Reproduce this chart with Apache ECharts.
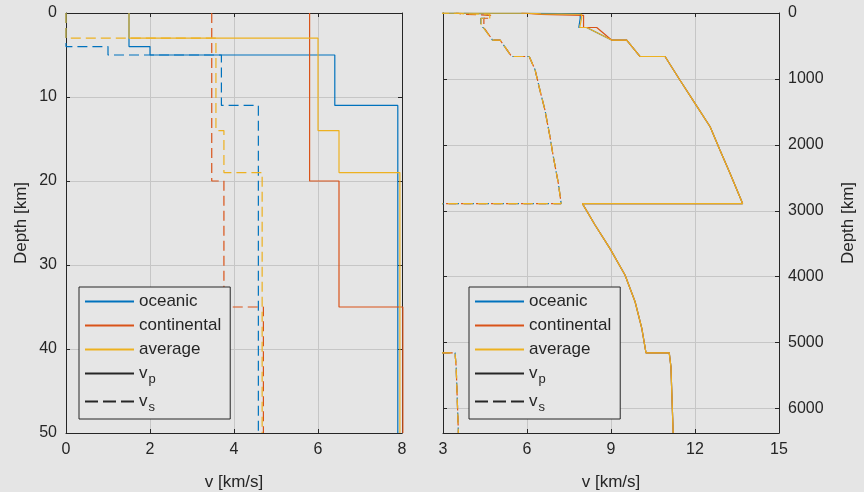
<!DOCTYPE html>
<html>
<head>
<meta charset="utf-8">
<script src="https://cdn.jsdelivr.net/npm/echarts@6/dist/echarts.min.js"></script>
<style>
  html, body { margin: 0; padding: 0; background: #e5e5e5; }
  #main { width: 864px; height: 492px; }
</style>
</head>
<body>
<div id="main"></div>
<script>
// crust layers: top depth [km] and velocity [km/s] of each layer
const oceanicTop = [0, 4, 5, 11];
const oceanicVp = [1.5, 2.0, 6.4, 7.9];
const oceanicVs = [0, 1.0, 3.7, 4.58];

const continentalTop = [0, 20, 35];
const continentalVp = [5.8, 6.5, 8.02];
const continentalVs = [3.47, 3.76, 4.7];

const averageTop = [0, 3, 14, 19];
const averageVp = [1.5, 6.0, 6.5, 7.95];
const averageVs = [0, 3.57, 3.76, 4.67];

// upper mantle, per model (oceanic, continental, average)
const lvzTop = 80;
const lvzBottom = 220;
const lvzVp = [7.85, 8.02, 7.88];
const lvzVs = [4.35, 4.46, 4.36];
const vpAt220 = [8.13, 8.49, 8.13];
const vsAt220 = [4.44, 4.52, 4.44];

// deeper earth, shared by all models
const vpDepth = [410, 410, 660, 660, 1016, 1370, 1725, 2078, 2432, 2891, 2891, 3216, 3570, 3975, 4380, 4784, 5155, 5155, 5365, 6371];
const vpDeep = [9.02, 9.56, 10.04, 10.93, 11.46, 12.0, 12.54, 12.89, 13.25, 13.7, 7.98, 8.43, 8.96, 9.5, 9.86, 10.1, 10.25, 11.08, 11.14, 11.22];
const vsDepth = [410, 410, 660, 660, 865, 1168, 1471, 1876, 2180, 2584, 2891, 2891, 5155, 5155, 5365, 6371];
const vsDeep = [4.77, 5.04, 5.45, 6.08, 6.29, 6.46, 6.64, 6.82, 6.94, 7.12, 7.22, 0, 0, 3.43, 3.47, 3.55];

const leftTicksX = [0, 8, 2];
const leftTicksY = [0, 50, 10];
const rightTicksX = [3, 15, 3];
const rightTicksY = [0, 6371, 1000];

const modelNames = ['oceanic', 'continental', 'average'];
const modelColors = ['#0072BD', '#D95319', '#EDB120'];
const legendNames = ['oceanic', 'continental', 'average', 'vp', 'vs'];

const axisFont = '"Liberation Sans", Arial, sans-serif';
const textColor = '#262626';

// turn a layer table into a staircase of [v, depth] points
function steps(top, vals, bottom) {
  let pts = [];
  for (let i = 0; i < top.length; i++) {
    let b = i + 1 < top.length ? top[i + 1] : bottom;
    pts.push([vals[i], top[i]]);
    pts.push([vals[i], b]);
  }
  return pts;
}

function fullProfile(top, vals, k, isVp) {
  let pts = steps(top, vals, lvzTop);
  let lvz = isVp ? lvzVp[k] : lvzVs[k];
  let v220 = isVp ? vpAt220[k] : vsAt220[k];
  pts.push([lvz, lvzTop], [lvz, lvzBottom], [v220, lvzBottom]);
  let dd = isVp ? vpDepth : vsDepth;
  let vv = isVp ? vpDeep : vsDeep;
  dd.forEach((d, i) => pts.push([vv[i], d]));
  return pts;
}

const tables = [
  [oceanicTop, oceanicVp, oceanicVs],
  [continentalTop, continentalVp, continentalVs],
  [averageTop, averageVp, averageVs]
];

let series = [];
tables.forEach((t, k) => {
  let base = {
    name: modelNames[k], type: 'line', symbol: 'none', color: modelColors[k],
    animation: false, clip: true
  };
  series.push(Object.assign({}, base, {
    xAxisIndex: 0, yAxisIndex: 0, data: steps(t[0], t[1], 50),
    lineStyle: { width: 1.2, color: modelColors[k] }
  }));
  series.push(Object.assign({}, base, {
    xAxisIndex: 0, yAxisIndex: 0, data: steps(t[0], t[2], 50),
    lineStyle: { width: 1.2, color: modelColors[k], type: [10, 5] }
  }));
  series.push(Object.assign({}, base, {
    xAxisIndex: 2, yAxisIndex: 2, data: fullProfile(t[0], t[1], k, true),
    lineStyle: { width: 1.2, color: modelColors[k] }
  }));
  series.push(Object.assign({}, base, {
    xAxisIndex: 2, yAxisIndex: 2, data: fullProfile(t[0], t[2], k, false),
    lineStyle: { width: 1.2, color: modelColors[k], type: [10, 5], dashOffset: k * 5 }
  }));
});
// legend-only entries for line style
series.push({ name: 'vp', type: 'line', symbol: 'none', data: [], xAxisIndex: 0, yAxisIndex: 0,
  color: textColor, lineStyle: { width: 1.2, color: textColor } });
series.push({ name: 'vs', type: 'line', symbol: 'none', data: [], xAxisIndex: 0, yAxisIndex: 0,
  color: textColor, lineStyle: { width: 1.2, color: textColor, type: [13, 5] } });

function axis(gridIndex, ticks, extra) {
  return Object.assign({
    type: 'value', gridIndex: gridIndex,
    min: ticks[0], max: ticks[1], interval: ticks[2],
    axisLine: { show: true, onZero: false, lineStyle: { color: textColor, width: 1 } },
    axisTick: { show: true, inside: true, length: 4, lineStyle: { color: textColor } },
    axisLabel: { show: false },
    splitLine: { show: false }
  }, extra);
}
const gridSplit = { show: true, lineStyle: { color: '#c6c6c6', width: 1 } };
const labelOn = { show: true, color: textColor, fontSize: 16, fontFamily: axisFont, margin: 9,
  formatter: v => String(v) };
const nameStyle = { color: textColor, fontSize: 17, fontFamily: axisFont };

function legend(left) {
  return {
    left: left, top: 287, orient: 'vertical', selectedMode: false,
    data: legendNames, itemWidth: 49, itemHeight: 12, itemGap: 7,
    padding: [6, 9, 5, 5], borderColor: textColor, borderWidth: 1, borderRadius: 0,
    backgroundColor: '#e6e6e6',
    itemStyle: { opacity: 0 },
    textStyle: {
      color: textColor, fontSize: 17, fontFamily: axisFont,
      rich: {
        v: { fontSize: 17, color: textColor, fontFamily: axisFont },
        sub: { fontSize: 13, color: textColor, padding: [12, 0, 0, 1], fontFamily: axisFont }
      }
    },
    formatter: function (n) {
      if (n === 'vp') return '{v|v}{sub|p}';
      if (n === 'vs') return '{v|v}{sub|s}';
      return n;
    }
  };
}

const chart = echarts.init(document.getElementById('main'), null, { renderer: 'canvas' });
chart.setOption({
  backgroundColor: '#e5e5e5',
  animation: false,
  grid: [
    { left: 66, top: 13, width: 336, height: 420, containLabel: false, outerBoundsMode: 'none' },
    { left: 443, top: 13, width: 336, height: 420, containLabel: false, outerBoundsMode: 'none' }
  ],
  xAxis: [
    axis(0, leftTicksX, { position: 'bottom', axisLabel: labelOn, splitLine: gridSplit,
      name: 'v [km/s]', nameLocation: 'middle', nameGap: 41, nameTextStyle: nameStyle }),
    axis(0, leftTicksX, { position: 'top' }),
    axis(1, rightTicksX, { position: 'bottom', axisLabel: labelOn, splitLine: gridSplit,
      name: 'v [km/s]', nameLocation: 'middle', nameGap: 41, nameTextStyle: nameStyle }),
    axis(1, rightTicksX, { position: 'top' })
  ],
  yAxis: [
    axis(0, leftTicksY, { position: 'left', inverse: true, axisLabel: labelOn, splitLine: gridSplit,
      name: 'Depth [km]', nameLocation: 'middle', nameGap: 36, nameRotate: 90, nameTextStyle: nameStyle }),
    axis(0, leftTicksY, { position: 'right', inverse: true }),
    axis(1, rightTicksY, { position: 'right', inverse: true,
      axisLabel: Object.assign({}, labelOn, { showMaxLabel: false }), splitLine: gridSplit,
      name: 'Depth [km]', nameLocation: 'middle', nameGap: 61, nameRotate: 90, nameTextStyle: nameStyle }),
    axis(1, rightTicksY, { position: 'left', inverse: true })
  ],
  legend: [legend(79), legend(469)],
  series: series
});
</script>
</body>
</html>
